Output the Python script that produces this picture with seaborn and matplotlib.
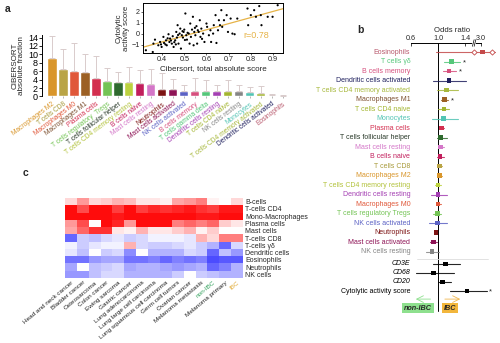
import numpy as np
import pandas as pd
import matplotlib
matplotlib.use('Agg')
import matplotlib.pyplot as plt
import seaborn as sns

sns.set_theme(style='white')
plt.rcParams['font.family'] = ['Liberation Sans', 'DejaVu Sans']

# ---------------- data ----------------
bar_cells = ['Macrophages M2', 'T cells CD8', 'Macrophages M0', 'Macrophages M1', 'Plasma cells',
             'T cells regulatory  Tregs', 'T cells follicular helper', 'T cells CD4 memory resting',
             'B cells naive', 'Mast cells resting', 'Neutrophils', 'Mast cells activated',
             'NK cells activated', 'B cells memory', 'T cells gamma delta', 'Dendritic cells resting',
             'T cells CD4 naive', 'NK cells resting', 'Monocytes', 'T cells CD4 memory activated',
             'Dendritic cells activated', 'Eosinophils']
bar_vals = [9.1, 6.5, 6.1, 5.7, 4.3, 3.7, 3.45, 3.45, 3.1, 2.9, 1.8, 1.8, 1.4, 1.4, 1.35, 1.35,
            1.4, 1.35, 1.05, 0.9, 0.4, 0.1]
bar_err_top = [14.4, 11.2, 12.8, 10.0, 9.6, 6.7, 5.8, 7.1, 6.2, 6.5, 5.6, 4.2, 2.8, 4.4, 3.8, 2.8,
               3.9, 2.8, 2.2, 2.4, 0.7, 0.3]

sc_x = [0.327, 0.358, 0.361, 0.368, 0.383, 0.391, 0.398, 0.406, 0.409, 0.418, 0.421, 0.429, 0.433,
        0.436, 0.444, 0.448, 0.452, 0.459, 0.464, 0.467, 0.470, 0.474, 0.479, 0.482, 0.485, 0.489,
        0.494, 0.497, 0.500, 0.505, 0.509, 0.512, 0.520, 0.524, 0.527, 0.530, 0.535, 0.539, 0.542,
        0.545, 0.550, 0.555, 0.558, 0.561, 0.565, 0.570, 0.573, 0.577, 0.585, 0.591, 0.600, 0.603,
        0.611, 0.618, 0.621, 0.630, 0.633, 0.641, 0.645, 0.652, 0.656, 0.661, 0.667, 0.671, 0.679,
        0.691, 0.697, 0.709, 0.717, 0.727, 0.739, 0.785, 0.788, 0.800, 0.815, 0.823, 0.838, 0.845,
        0.848, 0.876, 0.898, 0.921, 0.415, 0.440, 0.455, 0.472, 0.492, 0.515, 0.548, 0.580, 0.395,
        0.425, 0.462, 0.503]
sc_y = [-1.48, -1.64, -0.88, -0.52, -1.03, -0.73, -1.18, -0.27, -0.82, -0.58, -1.03, -0.03, -0.73,
        -0.42, -0.88, -0.21, -1.18, -0.58, 0.18, -0.33, 0.79, -0.88, 0.03, 0.48, -1.33, -0.12,
        -0.33, 0.18, 0.39, 1.85, -0.12, -0.52, 0.03, -0.88, 0.94, -0.27, 0.39, 1.55, -1.03,
        0.18, -0.12, 0.70, -0.88, 0.33, 0.18, 1.24, -0.27, 0.48, 0.03, -0.73, 0.94, 0.64,
        -0.12, 0.33, -0.73, 0.03, 0.79, 1.70, -0.82, 0.33, 1.24, 0.79, 2.15, 0.64, 1.24,
        1.70, 0.18, 1.39, 0.03, -0.03, 1.39, 2.30, 0.79, 1.70, 2.15, 1.55, 2.52, 1.70,
        0.79, 1.55, 1.55, 2.60, -0.95, -0.60, -0.75, -0.10, 0.25, 0.10, 0.55, -0.45, -0.95,
        -0.40, -0.95, -0.55]

fp_labels = ['Eosinophils', 'T cells γδ', 'B cells memory', 'Dendritic cells activated',
             'T cells CD4 memory activated', 'Macrophages M1', 'T cells CD4 naive', 'Monocytes',
             'Plasma cells', 'T cells follicular helper', 'Mast cells resting', 'B cells naive',
             'T cells CD8', 'Macrophages M2', 'T cells CD4 memory resting', 'Dendritic cells resting',
             'Macrophages M0', 'T cells regulatory Tregs', 'NK cells activated', 'Neutrophils',
             'Mast cells activated', 'NK cells resting', 'CD3E', 'CD68', 'CD20',
             'Cytolytic activity score']
fp_or = [3.2, 1.20, 1.16, 1.16, 1.13, 1.10, 1.09, 1.08, 1.05, 1.04, 1.04, 1.03, 1.02, 1.02, 1.00,
         1.00, 1.00, 0.99, 0.99, 0.97, 0.93, 0.91, 1.11, 0.93, 1.07, 1.43]
fp_lo = [0.97, 1.09, 1.07, 0.93, 0.99, 1.05, 1.00, 0.91, 1.02, 0.98, 1.00, 0.98, 1.00, 1.00, 0.96,
         0.89, 0.97, 0.93, 0.87, 0.95, 0.88, 0.82, 0.92, 0.67, 1.00, 1.18]
fp_hi = [5.1, 1.33, 1.27, 1.41, 1.29, 1.15, 1.17, 1.29, 1.09, 1.13, 1.09, 1.09, 1.06, 1.06, 1.04,
         1.13, 1.04, 1.05, 1.13, 0.99, 0.99, 1.02, 1.33, 1.24, 1.19, 1.72]
fp_signif = [False, True, True, False, False, True, False, False, False, False, False, False, False,
             False, False, False, False, False, False, False, False, False, False, False, False, True]
or_ticks = [0.6, 1.0, 1.4, 3.0]

hm_rows = ['B-cells', 'T-cells CD4', 'Mono-Macrophages', 'Plasma cells', 'Mast cells', 'T-cells CD8',
           'T-cells γδ', 'Dendritic cells', 'Eosinophils', 'Neutrophils', 'NK cells']
hm_cols = ['Head and neck cancer', 'Bladder cancer', 'Osteosarcoma', 'Colon cancer', 'Ewing sarcoma',
           'Gastric cancer', 'Lung adenocarcinoma', 'Lung large cell carcinoma',
           'Lung squamous cell carcinoma', 'Germ cell tumors', 'Ovarian cancer', 'Melanoma metastasis',
           'non-IBC', 'Melanoma primary', 'IBC']
hm_vals = [
    [0.15, 0.40, 0.15, 0.20, 0.30, 0.25, 0.10, 0.10, 0.05, 0.35, 0.40, 0.50, 0.05, 0.00, 0.15],
    [0.95, 0.70, 0.95, 0.95, 0.75, 0.95, 0.75, 0.85, 0.80, 0.85, 0.90, 0.80, 0.75, 0.90, 0.90],
    [0.95, 0.95, 0.95, 0.95, 0.90, 0.95, 0.95, 0.95, 0.95, 0.95, 0.95, 0.90, 0.90, 0.95, 0.95],
    [0.40, 0.70, 0.00, 0.95, 0.85, 0.40, 0.95, 0.95, 0.95, 0.50, 0.60, 0.50, 0.60, 0.20, 0.10],
    [0.35, 0.60, 0.80, 0.80, 0.10, 0.05, 0.30, 0.10, 0.10, 0.20, 0.30, 0.05, 0.20, 0.00, 0.00],
    [-0.60, -0.20, -0.25, -0.15, -0.10, -0.20, -0.15, -0.05, -0.05, -0.05, -0.10, 0.30, 0.15, 0.50, 0.50],
    [-0.05, -0.20, -0.10, -0.05, -0.05, 0.30, -0.15, -0.20, -0.20, -0.15, -0.10, -0.20, -0.30, -0.60, -0.15],
    [-0.10, -0.25, 0.00, -0.20, -0.15, -0.45, 0.00, -0.30, -0.30, -0.30, -0.15, -0.20, -0.60, -0.25, -0.40],
    [-0.55, -0.55, -0.40, -0.35, -0.35, -0.55, -0.55, -0.50, -0.60, -0.50, -0.55, -0.50, -0.70, -0.65, -0.65],
    [-0.35, 0.00, -0.25, -0.20, -0.15, -0.35, -0.30, -0.30, -0.35, -0.40, -0.35, -0.30, -0.60, -0.50, -0.30],
    [-0.40, -0.40, -0.25, -0.15, -0.15, -0.30, -0.30, -0.30, -0.30, -0.20, 0.00, -0.20, -0.25, -0.30, -0.30],
]

# ---------------- styles ----------------
cell_colors = {
    'Macrophages M2': '#d9962b', 'T cells CD8': '#b9a445', 'Macrophages M0': '#e0583a',
    'Macrophages M1': '#9c6024', 'Plasma cells': '#d32f4f', 'T cells regulatory  Tregs': '#74c455',
    'T cells regulatory Tregs': '#74c455',
    'T cells follicular helper': '#2f6a2f', 'T cells CD4 memory resting': '#bcd23f',
    'B cells naive': '#c21e5c', 'Mast cells resting': '#d477c8', 'Neutrophils': '#7d1414',
    'Mast cells activated': '#8e1456', 'NK cells activated': '#5c62c4', 'B cells memory': '#d6507e',
    'T cells gamma delta': '#55c77a', 'T cells γδ': '#55c77a', 'Dendritic cells resting': '#a43fb3',
    'T cells CD4 naive': '#a3b52f', 'NK cells resting': '#858585', 'Monocytes': '#52c4b4',
    'T cells CD4 memory activated': '#a7b83c', 'Dendritic cells activated': '#1f205e',
    'Eosinophils': '#c44a4a',
}
label_colors = dict(cell_colors)
label_colors.update({'T cells CD8': '#a89a3a', 'T cells CD4 memory resting': '#b2c23a',
                     'Eosinophils': '#b8586c', 'Macrophages M1': '#7d5030',
                     'T cells follicular helper': '#2a3a2a'})

fig = plt.figure(figsize=(5.0, 3.43), dpi=100)
W, H = 500.0, 343.0

def rect(l, t, r, b):
    return [l / W, 1 - b / H, (r - l) / W, (b - t) / H]

# ---------------- panel a: bars ----------------
axa = fig.add_axes(rect(42, 35, 289, 96.5))
df_bar = pd.DataFrame({'cell': bar_cells, 'val': bar_vals, 'top': bar_err_top})
sns.barplot(data=df_bar, x='cell', y='val', hue='cell', palette=[cell_colors[c] for c in bar_cells],
            legend=False, width=0.82, saturation=1, ax=axa)
xs = np.arange(len(bar_cells))
axa.errorbar(xs, df_bar['val'], yerr=[np.zeros(len(xs)), df_bar['top'] - df_bar['val']],
             fmt='none', ecolor='#d9cccc', elinewidth=0.7, capsize=2.0, capthick=0.7)
axa.set_xlim(-0.91, 21.55)
axa.set_ylim(0, 14.6)
axa.set_yticks(range(0, 15, 2))
axa.tick_params(axis='y', labelsize=6.5, length=2, width=0.6, pad=1, left=True)
axa.tick_params(axis='x', length=1.5, width=0.5, pad=1.5, bottom=True, colors='#999999')
axa.set_xticks(xs)
axa.set_xticklabels(bar_cells, rotation=37, ha='right', rotation_mode='anchor', fontsize=4.8)
for t, c in zip(axa.get_xticklabels(), bar_cells):
    t.set_color(label_colors[c])
axa.set_xlabel('')
axa.set_ylabel('CIBERSORT\nabsolute fraction', fontsize=5.8, labelpad=2, linespacing=0.95)
for s in ['top', 'right', 'bottom']:
    axa.spines[s].set_visible(False)
axa.spines['left'].set_linewidth(0.7)
axa.spines['left'].set_color('black')
axa.tick_params(axis='y', colors='black')

# ---------------- panel a: inset scatter ----------------
axi = fig.add_axes(rect(143, 3, 283, 53))
axi.set_xlim(0.314, 0.945)
axi.set_ylim(-1.73, 2.8)
sns.scatterplot(x=sc_x, y=sc_y, s=2.5, color='black', edgecolor='none', ax=axi, zorder=3)
sns.regplot(x=np.array(sc_x), y=np.array(sc_y), scatter=False, ci=None, truncate=False,
            color='#e6b347', line_kws=dict(lw=0.9), ax=axi)
axi.set_xlim(0.314, 0.945)
axi.set_ylim(-1.73, 2.8)
axi.set_xticks([0.4, 0.5, 0.6, 0.7, 0.8, 0.9])
axi.set_yticks([-1, 0, 1, 2])
axi.tick_params(labelsize=5.2, length=1.5, width=0.5, pad=1, left=True, bottom=True)
axi.set_xlabel('Cibersort, total absolute score', fontsize=5.8, labelpad=1)
axi.set_ylabel('Cytolytic\nactivity score', fontsize=5.6, labelpad=1, linespacing=0.95)
for s in axi.spines.values():
    s.set_linewidth(0.7)
    s.set_color('black')
axi.text(0.765, -0.12, 'r=0.78', color='#e6b347', fontsize=6.5, va='center')

# ---------------- panel b: forest ----------------
axb = fig.add_axes(rect(405, 43, 500, 320))

def to_pos(v):
    return v if v <= 2.0 else 1.637 + (v - 3.0) * 0.1

rows = list(range(22)) + [22.3, 23.25, 24.2, 25.15]
fcolors = [cell_colors.get(l, 'black') for l in fp_labels]
fcolors = [c if l not in ('CD3E', 'CD68', 'CD20', 'Cytolytic activity score') else 'black'
           for c, l in zip(fcolors, fp_labels)]
axb.set_xlim(0.511, 1.918)
axb.set_ylim(28.2, -0.95)
axb.axvline(1.0, ymin=(28.2 - 27.3) / 29.15, ymax=1, color='black', lw=0.7, zorder=1)
for r, o, lo, hi, c in zip(rows, fp_or, fp_lo, fp_hi, fcolors):
    axb.plot([to_pos(lo), to_pos(hi)], [r, r], color=c, lw=0.8, alpha=0.85, zorder=2)
df_fp = pd.DataFrame({'pos': [to_pos(v) for v in fp_or], 'row': rows, 'lab': fp_labels})
sns.scatterplot(data=df_fp, x='pos', y='row', hue='lab', palette=dict(zip(fp_labels, fcolors)),
                marker='s', s=11, edgecolor='none', legend=False, ax=axb, zorder=3)
axb.scatter([1.535, 1.80], [0, 0], marker='D', s=7, facecolor='white', edgecolor=fcolors[0],
            lw=0.6, zorder=4)
for r, hi, sg in zip(rows, fp_hi, fp_signif):
    if sg:
        axb.text(to_pos(hi) + 0.06, r + 0.1, '*', fontsize=5.5, ha='center', va='center')
for r, lab, c in zip(rows, fp_labels, fcolors):
    ital = lab in ('CD3E', 'CD68', 'CD20')
    axb.text(0.59, r, lab, ha='right', va='center', fontsize=5.0,
             color=label_colors.get(lab, 'black') if c != 'black' else 'black',
             style='italic' if ital else 'normal', clip_on=False)
axb.plot([0.69, 1.74], [21.75, 21.75], color='#dddddd', lw=0.6, clip_on=False)
axb.set_xticks([to_pos(v) for v in or_ticks])
axb.set_xticklabels([f'{v:.1f}' for v in or_ticks])
axb.xaxis.tick_top()
axb.xaxis.set_label_position('top')
axb.tick_params(axis='x', labelsize=5.2, direction='in', length=2, width=0.6, pad=1, top=True,
                bottom=False)
axb.set_xlabel('Odds ratio', fontsize=5.6, labelpad=2)
axb.set_ylabel('')
axb.set_yticks([])
for s in ['left', 'right', 'bottom']:
    axb.spines[s].set_visible(False)
axb.spines['top'].set_bounds(0.6, to_pos(3.0))
axb.spines['top'].set_linewidth(0.7)
axb.spines['top'].set_color('black')
axb.plot([1.52, 1.535, 1.55], [-0.95, -0.95, -0.95], color='white', lw=1.5, clip_on=False, zorder=5)
axb.plot([1.51, 1.535], [-0.6, -1.3], color='black', lw=0.5, clip_on=False, zorder=6)
axb.plot([1.535, 1.56], [-0.6, -1.3], color='black', lw=0.5, clip_on=False, zorder=6)
axb.annotate('', xy=(0.63, 26.0), xytext=(0.93, 26.0),
             arrowprops=dict(arrowstyle='->', color='#8ee08e', lw=0.6), annotation_clip=False)
axb.annotate('', xy=(1.37, 26.0), xytext=(1.06, 26.0),
             arrowprops=dict(arrowstyle='->', color='#f0b850', lw=0.6), annotation_clip=False)
axb.text(0.705, 26.95, 'non-IBC', ha='center', va='center', fontsize=5.2, weight='bold',
         style='italic', bbox=dict(boxstyle='square,pad=0.25', fc='#8ee08e', ec='none'))
axb.text(1.18, 26.95, 'IBC', ha='center', va='center', fontsize=5.2, weight='bold',
         style='italic', bbox=dict(boxstyle='square,pad=0.25', fc='#f2b63c', ec='none'))

# ---------------- panel c: heatmap ----------------
axc = fig.add_axes(rect(65, 198, 243, 278))
df_hm = pd.DataFrame(hm_vals, index=hm_rows, columns=hm_cols)
sns.heatmap(df_hm, cmap='bwr', vmin=-1, vmax=1, cbar=False, ax=axc, linewidths=0)
axc.yaxis.tick_right()
axc.set_yticks(np.arange(len(hm_rows)) + 0.5)
axc.set_yticklabels(hm_rows, rotation=0, fontsize=5.0, ha='left')
axc.set_xticks(np.arange(len(hm_cols)) + 0.5)
axc.set_xticklabels(hm_cols, rotation=40, ha='right', rotation_mode='anchor', fontsize=4.6)
axc.tick_params(length=0, pad=1.5)
for t in axc.get_xticklabels():
    if t.get_text() == 'non-IBC':
        t.set_color('#2fa05a')
    elif t.get_text() == 'IBC':
        t.set_color('#e0a830')
    else:
        t.set_color('#222222')
axc.set_xlabel('')
axc.set_ylabel('')

# panel letters
fig.text(5 / W, 1 - 9 / H, 'a', fontsize=7.5, weight='bold', va='center')
fig.text(357 / W, 1 - 30 / H, 'b', fontsize=7.5, weight='bold', va='center')
fig.text(23 / W, 1 - 173 / H, 'c', fontsize=7.5, weight='bold', va='center')

fig.savefig('out.png', dpi=100)
